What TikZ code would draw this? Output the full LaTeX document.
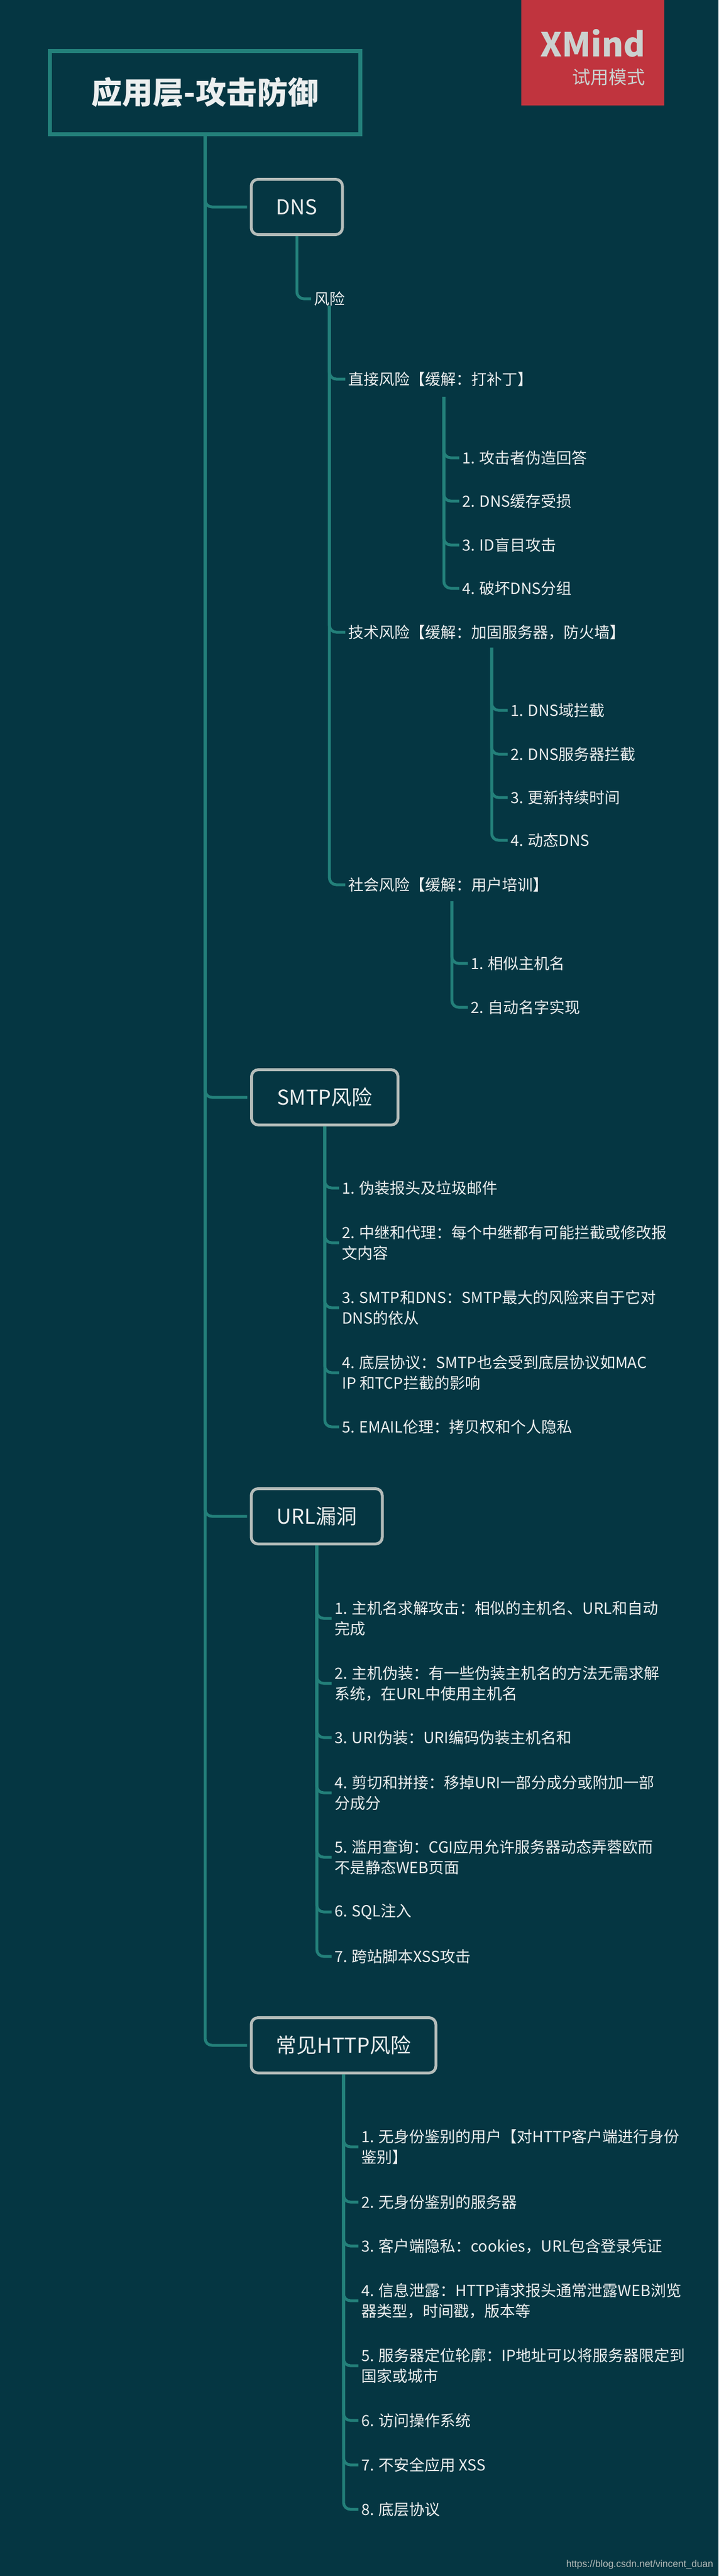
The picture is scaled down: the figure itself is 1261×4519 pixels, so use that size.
\documentclass[tikz,border=0pt]{standalone}
\usepackage{fontspec}
\setmainfont{Noto Sans CJK SC}
\newfontfamily\wmfont{Liberation Sans}
\definecolor{bg}{HTML}{053642}
\definecolor{teal}{HTML}{23807A}
\definecolor{boxgray}{HTML}{B5BDBA}
\definecolor{txt}{HTML}{ECEFEF}
\definecolor{xred}{HTML}{C0343E}
\tikzset{
  conn/.style={draw=teal,line width=5pt,rounded corners=12pt,shorten >=5pt},
  topbox/.style={draw=boxgray,line width=5pt,rounded corners=12pt,fill=bg,text=txt,font=\fontsize{36}{40}\selectfont,minimum height=97pt,inner sep=0pt},
  item/.style={anchor=west,text=txt,inner sep=0pt,align=left,font=\fontsize{27}{36}\selectfont},
}
\begin{document}
\begin{tikzpicture}[x=1pt,y=-1pt]
\fill[bg] (0,0) rectangle (1261,4519);
\useasboundingbox (0,0) rectangle (1261,4519);
% XMind badge
\fill[xred] (915,0) rectangle (1166,185);
\node[text=boxgray!70!white,font=\fontsize{58}{60}\selectfont\bfseries,anchor=east,inner sep=0pt] (xm) at (1133,76) {XMind};
\node[text=boxgray!70!white,font=\fontsize{32}{34}\selectfont,anchor=east,inner sep=0pt] (xmt) at (1133,135) {试用模式};
% title
\node[draw=teal,line width=7pt,fill=bg,text=txt,minimum width=545pt,minimum height=146pt,font=\fontsize{54}{58}\selectfont\bfseries,inner sep=0pt] (title) at (360,162) {应用层-攻击防御};
% top boxes
\node[topbox,minimum width=160pt] (dns) at (521,363) {DNS};
\node[topbox,minimum width=257pt] (smtp) at (570,1925) {SMTP风险};
\node[topbox,minimum width=230pt] (url) at (556,2660) {URL漏洞};
\node[topbox,minimum width=324pt] (http) at (603,3588) {常见HTTP风险};
\foreach \b in {dns,smtp,url,http} \draw[conn] (title.south) |- (\b.west);
% DNS
\node[item] (risk) at (551,524) {风险};
\draw[conn] (dns.south) |- (risk.west);
\node[item] (d1) at (611,665) {直接风险【缓解：打补丁】};
\node[item] (d2) at (611,1109) {技术风险【缓解：加固服务器，防火墙】};
\node[item] (d3) at (611,1552) {社会风险【缓解：用户培训】};
\foreach \n in {d1,d2,d3} \draw[conn] (risk.south) |- (\n.west);
\coordinate (c1) at (779,696);
\coordinate (c2) at (863,1136);
\coordinate (c3) at (793,1581);
\node[item] (d11) at (811,803) {1. 攻击者伪造回答};
\node[item] (d12) at (811,879) {2. DNS缓存受损};
\node[item] (d13) at (811,956) {3. ID盲目攻击};
\node[item] (d14) at (811,1032) {4. 破坏DNS分组};
\foreach \n in {d11,d12,d13,d14} \draw[conn] (c1) |- (\n.west);
\node[item] (d21) at (896,1246) {1. DNS域拦截};
\node[item] (d22) at (896,1323) {2. DNS服务器拦截};
\node[item] (d23) at (896,1399) {3. 更新持续时间};
\node[item] (d24) at (896,1474) {4. 动态DNS};
\foreach \n in {d21,d22,d23,d24} \draw[conn] (c2) |- (\n.west);
\node[item] (d31) at (826,1690) {1. 相似主机名};
\node[item] (d32) at (826,1767) {2. 自动名字实现};
\foreach \n in {d31,d32} \draw[conn] (c3) |- (\n.west);
% SMTP
\node[item] (s1) at (600,2084) {1. 伪装报头及垃圾邮件};
\node[item] (s2) at (600,2180) {2. 中继和代理：每个中继都有可能拦截或修改报\\文内容};
\node[item] (s3) at (600,2294) {3. SMTP和DNS：SMTP最大的风险来自于它对\\DNS的依从};
\node[item] (s4) at (600,2408) {4. 底层协议：SMTP也会受到底层协议如MAC\\IP 和TCP拦截的影响};
\node[item] (s5) at (600,2503) {5. EMAIL伦理：拷贝权和个人隐私};
\foreach \n in {s1,s2,s3,s4,s5} \draw[conn] (smtp.south) |- (\n.west);
% URL
\node[item] (u1) at (587,2839) {1. 主机名求解攻击：相似的主机名、URL和自动\\完成};
\node[item] (u2) at (587,2953) {2. 主机伪装：有一些伪装主机名的方法无需求解\\系统，在URL中使用主机名};
\node[item] (u3) at (587,3048) {3. URI伪装：URI编码伪装主机名和};
\node[item] (u4) at (587,3145) {4. 剪切和拼接：移掉URI一部分成分或附加一部\\分成分};
\node[item] (u5) at (587,3258) {5. 滥用查询：CGI应用允许服务器动态弄蓉欧而\\不是静态WEB页面};
\node[item] (u6) at (587,3354) {6. SQL注入};
\node[item] (u7) at (587,3432) {7. 跨站脚本XSS攻击};
\foreach \n in {u1,u2,u3,u4,u5,u6,u7} \draw[conn] (url.south) |- (\n.west);
% HTTP
\node[item] (h1) at (634,3766) {1. 无身份鉴别的用户【对HTTP客户端进行身份\\鉴别】};
\node[item] (h2) at (634,3863) {2. 无身份鉴别的服务器};
\node[item] (h3) at (634,3940) {3. 客户端隐私：cookies，URL包含登录凭证};
\node[item] (h4) at (634,4036) {4. 信息泄露：HTTP请求报头通常泄露WEB浏览\\器类型，时间戳，版本等};
\node[item] (h5) at (634,4150) {5. 服务器定位轮廓：IP地址可以将服务器限定到\\国家或城市};
\node[item] (h6) at (634,4246) {6. 访问操作系统};
\node[item] (h7) at (634,4324) {7. 不安全应用 XSS};
\node[item] (h8) at (634,4402) {8. 底层协议};
\foreach \n in {h1,h2,h3,h4,h5,h6,h7,h8} \draw[conn] (http.south) |- (\n.west);
\node[anchor=east,inner sep=0pt,text=boxgray,font=\wmfont\fontsize{17}{18}\selectfont] (wm) at (1252,4499) {https://blog.csdn.net/vincent\_duan};
\end{tikzpicture}
\end{document}
